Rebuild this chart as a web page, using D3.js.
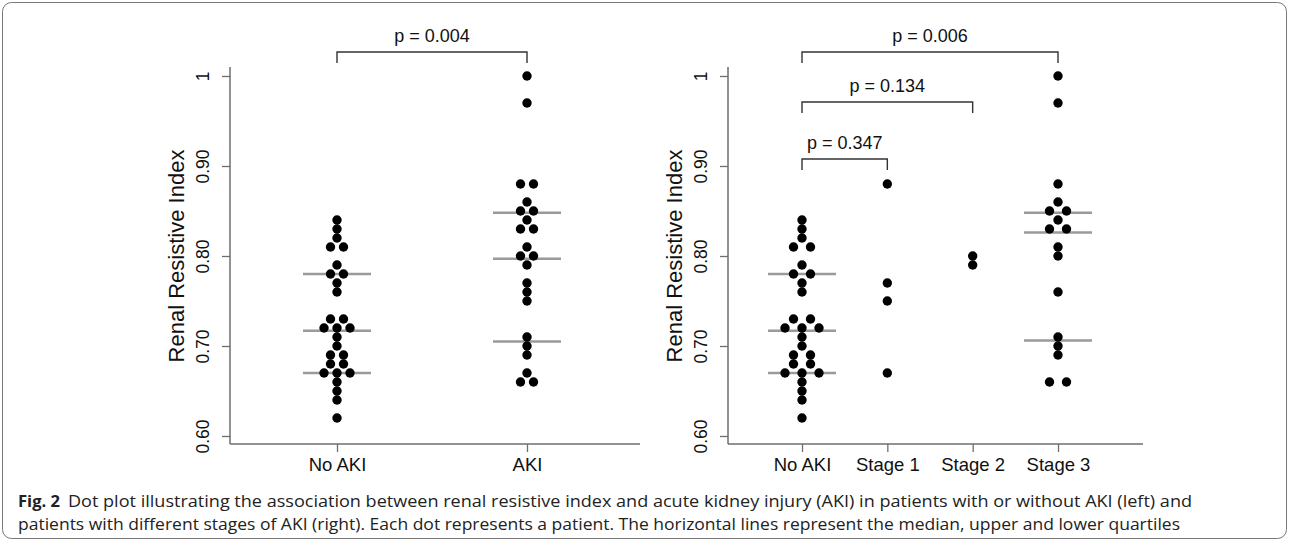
<!DOCTYPE html>
<html>
<head>
<meta charset="utf-8">
<script src="https://cdn.jsdelivr.net/npm/d3@7"></script>
<style>
  body { margin: 0; background: #fff; }
  svg { display: block; font-family: "Liberation Sans", Arial, sans-serif; }
</style>
</head>
<body>
<svg id="chart" width="1290" height="540"></svg>
<script>
// 資料
const yTicks = [0.6, 0.7, 0.8, 0.9, 1.0]
const yTickLabels = ['0.60', '0.70', '0.80', '0.90', '1']

const leftCats = ['No AKI', 'AKI']
const rightCats = ['No AKI', 'Stage 1', 'Stage 2', 'Stage 3']

const noAKI = [0.84, 0.83, 0.82, 0.81, 0.81, 0.79, 0.78, 0.78, 0.77, 0.76,
  0.73, 0.73, 0.72, 0.72, 0.72, 0.71, 0.70, 0.69, 0.69, 0.68, 0.68,
  0.67, 0.67, 0.67, 0.66, 0.65, 0.64, 0.62]
const aki = [1.00, 0.97, 0.88, 0.88, 0.86, 0.85, 0.85, 0.84, 0.83, 0.83,
  0.81, 0.80, 0.80, 0.79, 0.77, 0.76, 0.75, 0.71, 0.70, 0.69, 0.67, 0.66, 0.66]
const stage1 = [0.88, 0.77, 0.75, 0.67]
const stage2 = [0.80, 0.79]
const stage3 = [1.00, 0.97, 0.88, 0.86, 0.85, 0.85, 0.84, 0.83, 0.83,
  0.81, 0.80, 0.76, 0.71, 0.70, 0.69, 0.66, 0.66]

// 四分位線 [下四分位, 中位數, 上四分位]
const noAKIQuart = [0.67, 0.717, 0.78]
const akiQuart = [0.705, 0.797, 0.848]
const stage3Quart = [0.706, 0.826, 0.848]

const leftPvals = [{ from: 'No AKI', to: 'AKI', label: 'p = 0.004', level: 0 }]
const rightPvals = [
  { from: 'No AKI', to: 'Stage 3', label: 'p = 0.006', level: 0 },
  { from: 'No AKI', to: 'Stage 2', label: 'p = 0.134', level: 1 },
  { from: 'No AKI', to: 'Stage 1', label: 'p = 0.347', level: 2 },
]

const captionBold = 'Fig. 2'
const captionLine1 = 'Dot plot illustrating the association between renal resistive index and acute kidney injury (AKI) in patients with or without AKI (left) and'
const captionLine2 = 'patients with different stages of AKI (right). Each dot represents a patient. The horizontal lines represent the median, upper and lower quartiles'

const svg = d3.select('#chart')
const axisColor = '#6e6e6e'

// 外框
svg.append('rect')
  .attr('x', 2.5).attr('y', 2.5)
  .attr('width', 1284).attr('height', 536)
  .attr('rx', 9)
  .attr('fill', 'none')
  .attr('stroke', '#777')
  .attr('stroke-width', 1)

const y = d3.scaleLinear().domain([0.6, 1.0]).range([436, 76])

function drawPanel(params) {
  const { axisX, axisEnd, cats, xRange, groups, spacing, pvals, bracketY } = params
  const g = svg.append('g')
  const x = d3.scalePoint().domain(cats).range(xRange)

  // y 軸
  const yAxis = g.append('g')
    .attr('transform', `translate(${axisX},0)`)
    .call(d3.axisLeft(y).tickValues(yTicks).tickFormat((d, i) => yTickLabels[i]).tickSize(8).tickSizeOuter(0))
  yAxis.select('.domain').remove()
  yAxis.selectAll('.tick line').attr('stroke', axisColor).attr('stroke-width', 1.3)
  yAxis.selectAll('.tick text')
    .attr('transform', 'rotate(-90)')
    .attr('x', 0).attr('y', -21)
    .attr('dy', 0)
    .attr('text-anchor', 'middle')
    .attr('font-size', 17.5)
    .attr('fill', '#111')
  g.append('line')
    .attr('x1', axisX).attr('x2', axisX)
    .attr('y1', 67).attr('y2', 444)
    .attr('stroke', axisColor).attr('stroke-width', 1.5)

  // x 軸
  const xAxis = g.append('g')
    .attr('transform', 'translate(0,444)')
    .call(d3.axisBottom(x).tickSize(8).tickSizeOuter(0))
  xAxis.select('.domain').remove()
  xAxis.selectAll('.tick line').attr('stroke', axisColor).attr('stroke-width', 1.3)
  xAxis.selectAll('.tick text')
    .attr('y', 14).attr('dy', '0.71em')
    .attr('font-size', 18.5)
    .attr('fill', '#111')
  g.append('line')
    .attr('x1', axisX).attr('x2', axisEnd)
    .attr('y1', 444).attr('y2', 444)
    .attr('stroke', axisColor).attr('stroke-width', 1.5)

  // y 軸標題
  g.append('text')
    .attr('transform', `translate(${axisX - 46},${y(0.8)}) rotate(-90)`)
    .attr('text-anchor', 'middle')
    .attr('font-size', 22)
    .attr('fill', '#111')
    .text('Renal Resistive Index')

  // 四分位線
  groups.filter(gr => gr.quart).forEach(gr => {
    g.selectAll(null)
      .data(gr.quart)
      .enter()
      .append('line')
      .attr('x1', x(gr.cat) - 34).attr('x2', x(gr.cat) + 34)
      .attr('y1', d => y(d)).attr('y2', d => y(d))
      .attr('stroke', '#9a9a9a')
      .attr('stroke-width', 2.5)
  })

  // 點（同值並排）
  groups.forEach(gr => {
    const counts = d3.rollup(gr.values, v => v.length, d => d)
    const seen = new Map()
    const pts = gr.values.map(v => {
      const n = counts.get(v)
      const i = seen.get(v) || 0
      seen.set(v, i + 1)
      return { v, off: (i - (n - 1) / 2) * spacing }
    })
    g.selectAll(null)
      .data(pts)
      .enter()
      .append('circle')
      .attr('cx', d => x(gr.cat) + d.off)
      .attr('cy', d => y(d.v))
      .attr('r', 4.7)
      .attr('fill', '#000')
  })

  // p 值括號
  pvals.forEach(p => {
    const by = bracketY[p.level]
    const x0 = x(p.from)
    const x1 = x(p.to)
    g.append('path')
      .attr('d', `M${x0},${by + 11}V${by}H${x1}V${by + 11}`)
      .attr('fill', 'none')
      .attr('stroke', '#333')
      .attr('stroke-width', 1.4)
    g.append('text')
      .attr('x', (x0 + x1) / 2)
      .attr('y', by - 10)
      .attr('text-anchor', 'middle')
      .attr('font-size', 18)
      .attr('fill', '#111')
      .text(p.label)
  })
}

drawPanel({
  axisX: 230,
  axisEnd: 640,
  cats: leftCats,
  xRange: [337, 527],
  spacing: 13,
  groups: [
    { cat: 'No AKI', values: noAKI, quart: noAKIQuart },
    { cat: 'AKI', values: aki, quart: akiQuart },
  ],
  pvals: leftPvals,
  bracketY: [52],
})

drawPanel({
  axisX: 728,
  axisEnd: 1143,
  cats: rightCats,
  xRange: [802, 1058],
  spacing: 17,
  groups: [
    { cat: 'No AKI', values: noAKI, quart: noAKIQuart },
    { cat: 'Stage 1', values: stage1 },
    { cat: 'Stage 2', values: stage2 },
    { cat: 'Stage 3', values: stage3, quart: stage3Quart },
  ],
  pvals: rightPvals,
  bracketY: [52, 102, 159],
})

// 圖說
const cap = svg.append('g').attr('font-family', '"Open Sans", "Noto Sans", sans-serif').attr('fill', '#222')
cap.append('text')
  .attr('x', 18).attr('y', 507)
  .attr('font-size', 16)
  .attr('font-weight', 'bold')
  .attr('textLength', 42)
  .attr('lengthAdjust', 'spacingAndGlyphs')
  .text(captionBold)
cap.append('text')
  .attr('x', 68).attr('y', 507)
  .attr('font-size', 16)
  .attr('textLength', 1124)
  .attr('lengthAdjust', 'spacingAndGlyphs')
  .text(captionLine1)
cap.append('text')
  .attr('x', 18).attr('y', 530)
  .attr('font-size', 16)
  .attr('textLength', 1162)
  .attr('lengthAdjust', 'spacingAndGlyphs')
  .text(captionLine2)
</script>
</body>
</html>
